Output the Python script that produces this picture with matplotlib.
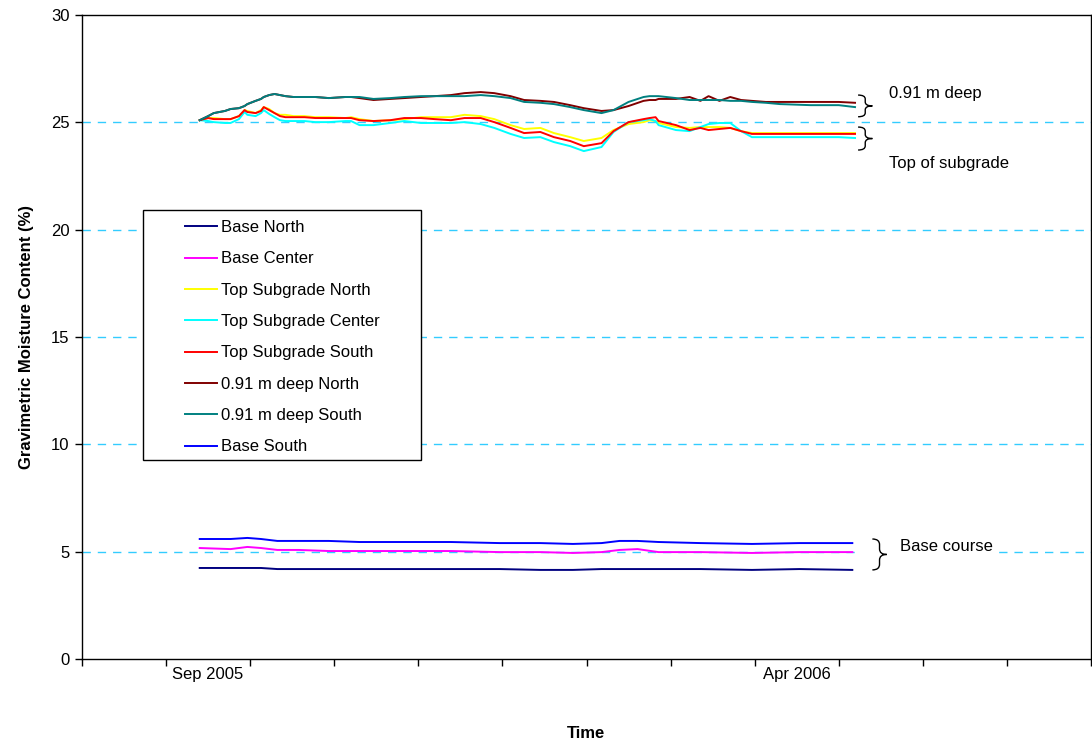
import numpy as np
import pandas as pd
import matplotlib
matplotlib.use("Agg")
import matplotlib.pyplot as plt
from matplotlib.path import Path
from matplotlib.patches import PathPatch, Rectangle

plt.rcParams['font.family'] = ['Liberation Sans', 'DejaVu Sans']

# Sensor readings, upper group (top of subgrade and 0.91 m deep)
upper_dates = ['2005-09-13', '2005-09-16', '2005-09-18', '2005-09-22', '2005-09-24', '2005-09-27',
               '2005-09-29', '2005-09-30', '2005-10-03', '2005-10-05', '2005-10-06', '2005-10-08',
               '2005-10-10', '2005-10-12', '2005-10-14', '2005-10-17', '2005-10-21', '2005-10-25',
               '2005-10-30', '2005-11-05', '2005-11-07', '2005-11-10', '2005-11-15', '2005-11-21',
               '2005-11-26', '2005-12-02', '2005-12-07', '2005-12-13', '2005-12-18', '2005-12-24',
               '2005-12-29', '2006-01-04', '2006-01-09', '2006-01-15', '2006-01-20', '2006-01-26',
               '2006-01-31', '2006-02-06', '2006-02-10', '2006-02-15', '2006-02-20', '2006-02-22',
               '2006-02-24', '2006-02-25', '2006-03-03', '2006-03-08', '2006-03-12', '2006-03-15',
               '2006-03-19', '2006-03-23', '2006-03-27', '2006-03-31', '2006-04-05', '2006-04-10',
               '2006-04-21', '2006-05-01', '2006-05-07']

ts_north = [25.10, 25.20, 25.20, 25.15, 25.15, 25.29, 25.57, 25.53, 25.43, 25.57, 25.71, 25.62,
            25.43, 25.35, 25.35, 25.29, 25.29, 25.24, 25.24, 25.20, 25.24, 25.15, 25.06, 25.10,
            25.15, 25.24, 25.24, 25.24, 25.35, 25.29, 25.15, 24.87, 24.69, 24.74, 24.50, 24.31,
            24.13, 24.27, 24.64, 24.92, 25.01, 25.10, 25.06, 24.97, 24.78, 24.74, 24.78, 24.78,
            24.78, 24.74, 24.59, 24.50, 24.50, 24.50, 24.50, 24.50, 24.50]
ts_center = [25.10, 25.06, 25.01, 24.97, 24.97, 25.15, 25.48, 25.35, 25.29, 25.43, 25.57, 25.39,
             25.24, 25.10, 25.06, 25.06, 25.06, 25.01, 25.01, 25.06, 25.06, 24.87, 24.87, 24.97,
             25.06, 24.97, 24.97, 24.97, 25.01, 24.92, 24.74, 24.46, 24.27, 24.31, 24.08, 23.89,
             23.66, 23.85, 24.55, 25.01, 25.10, 25.15, 25.06, 24.87, 24.64, 24.59, 24.78, 24.92,
             24.97, 24.97, 24.59, 24.31, 24.31, 24.31, 24.31, 24.31, 24.27]
ts_south = [25.10, 25.20, 25.15, 25.15, 25.15, 25.29, 25.57, 25.48, 25.43, 25.53, 25.71, 25.57,
            25.43, 25.29, 25.24, 25.24, 25.24, 25.20, 25.20, 25.20, 25.20, 25.10, 25.06, 25.10,
            25.20, 25.20, 25.15, 25.10, 25.20, 25.20, 25.01, 24.74, 24.50, 24.55, 24.31, 24.13,
            23.89, 24.03, 24.59, 25.01, 25.15, 25.20, 25.24, 25.06, 24.87, 24.64, 24.74, 24.64,
            24.69, 24.74, 24.59, 24.46, 24.46, 24.46, 24.46, 24.46, 24.46]
deep_north = [25.10, 25.29, 25.43, 25.53, 25.62, 25.66, 25.76, 25.85, 26.00, 26.09, 26.18, 26.27,
              26.32, 26.27, 26.22, 26.18, 26.18, 26.18, 26.13, 26.18, 26.18, 26.13, 26.04, 26.09,
              26.13, 26.18, 26.22, 26.27, 26.36, 26.41, 26.36, 26.22, 26.04, 26.00, 25.95, 25.80,
              25.66, 25.53, 25.57, 25.76, 26.00, 26.04, 26.04, 26.09, 26.09, 26.18, 26.00, 26.22,
              26.00, 26.18, 26.04, 26.00, 25.95, 25.95, 25.95, 25.95, 25.91]
deep_south = [25.10, 25.29, 25.43, 25.53, 25.62, 25.66, 25.76, 25.85, 26.00, 26.09, 26.18, 26.27,
              26.32, 26.27, 26.22, 26.18, 26.18, 26.18, 26.13, 26.18, 26.18, 26.18, 26.09, 26.13,
              26.18, 26.22, 26.22, 26.22, 26.22, 26.27, 26.22, 26.13, 25.95, 25.91, 25.85, 25.71,
              25.57, 25.43, 25.57, 25.95, 26.18, 26.22, 26.22, 26.22, 26.13, 26.04, 26.04, 26.04,
              26.04, 26.00, 26.00, 25.95, 25.91, 25.85, 25.80, 25.80, 25.71]

# Sensor readings, base course
base_dates = ['2005-09-13', '2005-09-24', '2005-09-30', '2005-10-05', '2005-10-11', '2005-10-19',
              '2005-10-30', '2005-11-10', '2005-11-24', '2005-12-13', '2005-12-31', '2006-01-15',
              '2006-01-27', '2006-02-06', '2006-02-12', '2006-02-18', '2006-02-25', '2006-03-12',
              '2006-03-31', '2006-04-17', '2006-05-06']
base_north = [4.24, 4.24, 4.24, 4.24, 4.19, 4.19, 4.19, 4.19, 4.19, 4.19, 4.19, 4.15,
              4.15, 4.19, 4.19, 4.19, 4.19, 4.19, 4.15, 4.19, 4.15]
base_center = [5.17, 5.12, 5.22, 5.17, 5.08, 5.08, 5.03, 5.03, 5.03, 5.03, 4.98, 4.98,
               4.94, 4.98, 5.08, 5.12, 4.98, 4.98, 4.94, 4.98, 4.98]
base_south = [5.59, 5.59, 5.64, 5.59, 5.50, 5.50, 5.50, 5.45, 5.45, 5.45, 5.40, 5.40,
              5.36, 5.40, 5.50, 5.50, 5.45, 5.40, 5.36, 5.40, 5.40]

month_labels = {1: 'Sep 2005', 8: 'Apr 2006'}


def month_pos(s):
    # months since 1 Aug 2005, each month drawn with equal width
    d = pd.Timestamp(s)
    return (d.year - 2005) * 12 + (d.month - 8) + (d.day - 1) / d.days_in_month


def brace(ax, x0, x1, ytop, ybot):
    xm = (x0 + x1) / 2
    ym = (ytop + ybot) / 2
    r = (ytop - ybot) * 0.18
    verts = [(x0, ytop), (xm, ytop), (xm, ytop - r), (xm, ym + r), (xm, ym), (x1, ym),
             (xm, ym), (xm, ym - r), (xm, ybot + r), (xm, ybot), (x0, ybot)]
    codes = [Path.MOVETO, Path.CURVE3, Path.CURVE3, Path.LINETO, Path.CURVE3, Path.CURVE3,
             Path.CURVE3, Path.CURVE3, Path.LINETO, Path.CURVE3, Path.CURVE3]
    ax.add_patch(PathPatch(Path(verts, codes), fill=False, lw=1.0, ec='black', zorder=6))


W, H = 1092, 742
FS = 12
fig = plt.figure(figsize=(W / 100, H / 100), dpi=100)
ax = fig.add_axes([82 / W, 83 / H, 1009 / W, 644 / H])

xu = [month_pos(d) for d in upper_dates]
xb = [month_pos(d) for d in base_dates]

series = [
    (xb, base_north, '#000080', 'Base North'),
    (xb, base_center, '#FF00FF', 'Base Center'),
    (xu, ts_north, '#FFFF00', 'Top Subgrade North'),
    (xu, ts_center, '#00FFFF', 'Top Subgrade Center'),
    (xu, ts_south, '#FF0000', 'Top Subgrade South'),
    (xu, deep_north, '#800000', '0.91 m deep North'),
    (xu, deep_south, '#008080', '0.91 m deep South'),
    (xb, base_south, '#0000FF', 'Base South'),
]
for x, y, c, name in series:
    ax.plot(x, y, color=c, lw=1.4, label=name, zorder=3)

ax.set_xlim(0, 12)
ax.set_ylim(0, 30)
ax.set_yticks(np.arange(0, 31, 5))
ax.set_xticks(np.arange(0, 13))
ax.set_xticklabels([])
ax.set_xticks([m + 0.5 for m in month_labels], minor=True)
ax.set_xticklabels(list(month_labels.values()), minor=True)
ax.tick_params(axis='x', which='minor', length=0, pad=6, labelsize=FS)
ax.tick_params(axis='x', which='major', direction='out', length=5, width=1)
ax.tick_params(axis='y', direction='out', length=5, width=1, labelsize=FS, pad=4)
for sp in ax.spines.values():
    sp.set_linewidth(1)
    sp.set_color('black')

for yv in range(5, 30, 5):
    ax.axhline(yv, color='#33CCFF', lw=1, linestyle=(0, (6, 5)), zorder=1)

ax.set_ylabel('Gravimetric Moisture Content (%)', fontsize=FS, fontweight='bold', labelpad=12)
fig.text(586 / W, 1 - 733 / H, 'Time', fontsize=FS, fontweight='bold', ha='center', va='center')

# annotations on the right
brace(ax, 9.23, 9.40, 26.27, 25.26)
brace(ax, 9.23, 9.40, 24.78, 23.71)
ax.add_patch(Rectangle((9.21, 4.6), 1.70, 0.85, fc='white', ec='none', zorder=2))
brace(ax, 9.40, 9.57, 5.59, 4.15)
ax.text(9.60, 26.36, '0.91 m deep', fontsize=FS, va='center', ha='left', zorder=6)
ax.text(9.60, 23.10, 'Top of subgrade', fontsize=FS, va='center', ha='left', zorder=6)
ax.text(9.73, 5.22, 'Base course', fontsize=FS, va='center', ha='left', zorder=6)

# legend with square frame
ax.add_patch(Rectangle((143 / W, 1 - 460 / H), 278 / W, 250 / H, transform=fig.transFigure,
                       fc='white', ec='black', lw=1, zorder=7, clip_on=False))
leg = ax.legend(loc='upper left', bbox_to_anchor=(185 / W, 1 - 220 / H),
                bbox_transform=fig.transFigure, frameon=False, fontsize=FS,
                handlelength=1.9, handletextpad=0.25, labelspacing=0.98,
                borderpad=0, borderaxespad=0)
leg.set_zorder(8)
for line in leg.get_lines():
    line.set_linewidth(1.4)

fig.savefig('out.png', dpi=100)
